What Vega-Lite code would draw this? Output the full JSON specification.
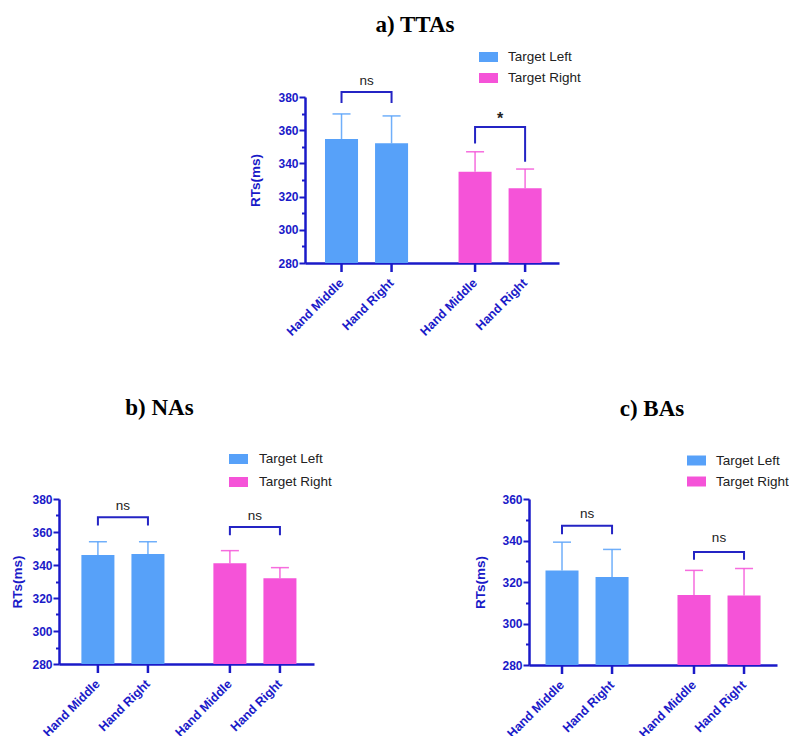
{
  "$schema": "https://vega.github.io/schema/vega-lite/v6.json",
  "background": "white",
  "padding": {"left": 10, "top": 14, "right": 0, "bottom": 0},
  "config": {
    "view": {"stroke": null},
    "axis": {"domainColor": "#1a1ac8", "tickColor": "#1a1ac8", "labelColor": "#1a1ac8", "titleColor": "#1a1ac8", "labelFont": "Liberation Sans", "titleFont": "Liberation Sans", "grid": false},
    "axisY": {"domainWidth": 2.5, "tickWidth": 2, "labelFontWeight": "bold", "labelFontSize": 12, "titleFontWeight": "bold", "titleFontSize": 13.5, "labelPadding": 1, "titlePadding": 8, "tickCount": 10},
    "legend": {"title": null, "orient": "none", "symbolType": "M-1,-0.526H1V0.526H-1Z", "symbolSize": 361, "symbolStrokeWidth": 0, "labelFont": "Liberation Sans", "labelFontSize": 13.5, "labelColor": "#222222", "labelOffset": 10, "rowPadding": 5, "padding": 0},
    "title": {"font": "Liberation Serif", "fontSize": 23, "fontWeight": "bold", "color": "#000000", "anchor": "middle", "frame": "group", "baseline": "alphabetic"}
  },
  "datasets": {
    "barsA": [
      {"target": "Target Left", "hand": "Hand Middle", "mean": 354.7, "hi": 369.8},
      {"target": "Target Left", "hand": "Hand Right", "mean": 352.1, "hi": 368.6},
      {"target": "Target Right", "hand": "Hand Middle", "mean": 335.0, "hi": 347.0},
      {"target": "Target Right", "hand": "Hand Right", "mean": 325.0, "hi": 336.6}
    ],
    "brA": [
      {"br": "L", "target": "Target Left", "hand": "Hand Middle", "v": 376.4, "seq": 1},
      {"br": "L", "target": "Target Left", "hand": "Hand Middle", "v": 383, "seq": 2},
      {"br": "L", "target": "Target Left", "hand": "Hand Right", "v": 383, "seq": 3},
      {"br": "L", "target": "Target Left", "hand": "Hand Right", "v": 376.4, "seq": 4},
      {"br": "R", "target": "Target Right", "hand": "Hand Middle", "v": 352, "seq": 1},
      {"br": "R", "target": "Target Right", "hand": "Hand Middle", "v": 362, "seq": 2},
      {"br": "R", "target": "Target Right", "hand": "Hand Right", "v": 362, "seq": 3},
      {"br": "R", "target": "Target Right", "hand": "Hand Right", "v": 341, "seq": 4}
    ],
    "sigA": [
      {"target": "Target Left", "lab": "ns", "v": 389.6},
      {"target": "Target Right", "lab": "*", "v": 366.5}
    ],
    "barsB": [
      {"target": "Target Left", "hand": "Hand Middle", "mean": 346.1, "hi": 354.1},
      {"target": "Target Left", "hand": "Hand Right", "mean": 346.7, "hi": 354.1},
      {"target": "Target Right", "hand": "Hand Middle", "mean": 341.0, "hi": 348.7},
      {"target": "Target Right", "hand": "Hand Right", "mean": 332.0, "hi": 338.4}
    ],
    "brB": [
      {"br": "L", "target": "Target Left", "hand": "Hand Middle", "v": 364, "seq": 1},
      {"br": "L", "target": "Target Left", "hand": "Hand Middle", "v": 369, "seq": 2},
      {"br": "L", "target": "Target Left", "hand": "Hand Right", "v": 369, "seq": 3},
      {"br": "L", "target": "Target Left", "hand": "Hand Right", "v": 364, "seq": 4},
      {"br": "R", "target": "Target Right", "hand": "Hand Middle", "v": 358, "seq": 1},
      {"br": "R", "target": "Target Right", "hand": "Hand Middle", "v": 363, "seq": 2},
      {"br": "R", "target": "Target Right", "hand": "Hand Right", "v": 363, "seq": 3},
      {"br": "R", "target": "Target Right", "hand": "Hand Right", "v": 358, "seq": 4}
    ],
    "sigB": [
      {"target": "Target Left", "lab": "ns", "v": 375.5},
      {"target": "Target Right", "lab": "ns", "v": 369.7}
    ],
    "barsC": [
      {"target": "Target Left", "hand": "Hand Middle", "mean": 325.6, "hi": 339.2},
      {"target": "Target Left", "hand": "Hand Right", "mean": 322.4, "hi": 335.7},
      {"target": "Target Right", "hand": "Hand Middle", "mean": 313.7, "hi": 325.6},
      {"target": "Target Right", "hand": "Hand Right", "mean": 313.5, "hi": 326.5}
    ],
    "brC": [
      {"br": "L", "target": "Target Left", "hand": "Hand Middle", "v": 343, "seq": 1},
      {"br": "L", "target": "Target Left", "hand": "Hand Middle", "v": 347.1, "seq": 2},
      {"br": "L", "target": "Target Left", "hand": "Hand Right", "v": 347.1, "seq": 3},
      {"br": "L", "target": "Target Left", "hand": "Hand Right", "v": 343, "seq": 4},
      {"br": "R", "target": "Target Right", "hand": "Hand Middle", "v": 330.7, "seq": 1},
      {"br": "R", "target": "Target Right", "hand": "Hand Middle", "v": 334.5, "seq": 2},
      {"br": "R", "target": "Target Right", "hand": "Hand Right", "v": 334.5, "seq": 3},
      {"br": "R", "target": "Target Right", "hand": "Hand Right", "v": 330.7, "seq": 4}
    ],
    "sigC": [
      {"target": "Target Left", "lab": "ns", "v": 353},
      {"target": "Target Right", "lab": "ns", "v": 341}
    ]
  },
  "bounds": "flush",
  "spacing": 402,
  "resolve": {"scale": {"color": "independent"}, "legend": {"color": "independent"}},
  "vconcat": [
    {
      "bounds": "flush",
      "spacing": 0,
      "resolve": {"scale": {"color": "independent"}, "legend": {"color": "independent"}},
      "hconcat": [
        {"data": {"values": [{}]}, "mark": {"type": "point", "opacity": 0}, "width": 246, "height": 10},
        {
          "width": 254, "height": 166,
          "title": {"text": "a) TTAs", "offset": 10.5, "dx": -17},
          "encoding": {"x": {"field": "target", "type": "nominal", "title": null, "scale": {"paddingInner": 0.378, "paddingOuter": 0.14, "align": 0.535}, "axis": {"labels": false, "ticks": false, "domainWidth": 2.5}}},
          "layer": [
            {"data": {"name": "barsA"}, "mark": {"type": "bar"},
             "encoding": {
               "xOffset": {"field": "hand", "type": "nominal", "scale": {"paddingInner": 0.34, "paddingOuter": 0}},
               "y": {"field": "mean", "type": "quantitative", "title": "RTs(ms)", "scale": {"domain": [280, 380], "nice": false, "zero": false},
                     "axis": {"titlePadding": 15, "labelExpr": "datum.value % 20 === 0 ? datum.label : ''", "tickSize": {"condition": {"test": "datum.value % 20 === 0", "value": 6}, "value": 3.5}}},
               "y2": {"datum": 280},
               "color": {"field": "target", "type": "nominal", "scale": {"domain": ["Target Left", "Target Right"], "range": ["#57a1f9", "#f553d8"]}, "legend": {"legendX": 174, "legendY": -49.5}}
             }},
            {"data": {"name": "barsA"}, "mark": {"type": "rule", "strokeWidth": 1.5, "opacity": 0.85},
             "encoding": {
               "xOffset": {"field": "hand", "type": "nominal"},
               "y": {"field": "mean", "type": "quantitative"},
               "y2": {"field": "hi"},
               "color": {"field": "target", "type": "nominal", "legend": null}
             }},
            {"data": {"name": "barsA"}, "mark": {"type": "tick", "thickness": 1.5, "size": 18, "opacity": 0.85},
             "encoding": {
               "xOffset": {"field": "hand", "type": "nominal"},
               "y": {"field": "hi", "type": "quantitative"},
               "color": {"field": "target", "type": "nominal", "legend": null}
             }},
            {"data": {"name": "barsA"}, "mark": {"type": "rule", "strokeWidth": 2.5, "color": "#1a1ac8", "y2Offset": 9},
             "encoding": {
               "xOffset": {"field": "hand", "type": "nominal"},
               "y": {"datum": 280, "type": "quantitative"},
               "y2": {"datum": 280}
             }},
            {"data": {"name": "barsA"}, "mark": {"type": "text", "angle": 315, "align": "right", "baseline": "middle", "yOffset": 18, "font": "Liberation Sans", "fontWeight": "bold", "fontSize": 12.5, "color": "#1a1ac8"},
             "encoding": {
               "xOffset": {"field": "hand", "type": "nominal"},
               "y": {"datum": 280, "type": "quantitative"},
               "text": {"field": "hand"}
             }},
            {"data": {"name": "brA"}, "mark": {"type": "line", "strokeWidth": 2, "color": "#2424c4"},
             "encoding": {
               "xOffset": {"field": "hand", "type": "nominal"},
               "y": {"field": "v", "type": "quantitative"},
               "detail": {"field": "br"},
               "order": {"field": "seq"}
             }},
            {"data": {"name": "sigA"}, "transform": [{"filter": "datum.lab === 'ns'"}], "mark": {"type": "text", "font": "Liberation Sans", "fontSize": 13.5, "color": "#222222", "baseline": "middle"},
             "encoding": {
               "y": {"field": "v", "type": "quantitative"},
               "text": {"field": "lab"}
             }},
            {"data": {"name": "sigA"}, "transform": [{"filter": "datum.lab === '*'"}], "mark": {"type": "text", "font": "Liberation Sans", "fontSize": 16, "fontWeight": "bold", "color": "#222222", "baseline": "middle"},
             "encoding": {
               "y": {"field": "v", "type": "quantitative"},
               "text": {"field": "lab"}
             }}
          ]
        }
      ]
    },
    {
      "bounds": "flush",
      "spacing": 215,
      "resolve": {"scale": {"color": "independent"}, "legend": {"color": "independent"}},
      "hconcat": [
        {
          "width": 255, "height": 165,
          "title": {"text": "b) NAs", "offset": 30, "dx": -27},
          "encoding": {"x": {"field": "target", "type": "nominal", "title": null, "scale": {"paddingInner": 0.371, "paddingOuter": 0.1515, "align": 0.56}, "axis": {"labels": false, "ticks": false, "domainWidth": 2.5}}},
          "layer": [
            {"data": {"name": "barsB"}, "mark": {"type": "bar"},
             "encoding": {
               "xOffset": {"field": "hand", "type": "nominal", "scale": {"paddingInner": 0.34, "paddingOuter": 0}},
               "y": {"field": "mean", "type": "quantitative", "title": "RTs(ms)", "scale": {"domain": [280, 380], "nice": false, "zero": false},
                     "axis": {"titlePadding": 7, "labelExpr": "datum.value % 20 === 0 ? datum.label : ''", "tickSize": {"condition": {"test": "datum.value % 20 === 0", "value": 6}, "value": 3.5}}},
               "y2": {"datum": 280},
               "color": {"field": "target", "type": "nominal", "scale": {"domain": ["Target Left", "Target Right"], "range": ["#57a1f9", "#f553d8"]}, "legend": {"legendX": 170, "legendY": -49.5, "labelOffset": 11, "rowPadding": 7}}
             }},
            {"data": {"name": "barsB"}, "mark": {"type": "rule", "strokeWidth": 1.5, "opacity": 0.85},
             "encoding": {
               "xOffset": {"field": "hand", "type": "nominal"},
               "y": {"field": "mean", "type": "quantitative"},
               "y2": {"field": "hi"},
               "color": {"field": "target", "type": "nominal", "legend": null}
             }},
            {"data": {"name": "barsB"}, "mark": {"type": "tick", "thickness": 1.5, "size": 18, "opacity": 0.85},
             "encoding": {
               "xOffset": {"field": "hand", "type": "nominal"},
               "y": {"field": "hi", "type": "quantitative"},
               "color": {"field": "target", "type": "nominal", "legend": null}
             }},
            {"data": {"name": "barsB"}, "mark": {"type": "rule", "strokeWidth": 2.5, "color": "#1a1ac8", "y2Offset": 9},
             "encoding": {
               "xOffset": {"field": "hand", "type": "nominal"},
               "y": {"datum": 280, "type": "quantitative"},
               "y2": {"datum": 280}
             }},
            {"data": {"name": "barsB"}, "mark": {"type": "text", "angle": 315, "align": "right", "baseline": "middle", "yOffset": 18, "font": "Liberation Sans", "fontWeight": "bold", "fontSize": 12.5, "color": "#1a1ac8"},
             "encoding": {
               "xOffset": {"field": "hand", "type": "nominal"},
               "y": {"datum": 280, "type": "quantitative"},
               "text": {"field": "hand"}
             }},
            {"data": {"name": "brB"}, "mark": {"type": "line", "strokeWidth": 2, "color": "#2424c4"},
             "encoding": {
               "xOffset": {"field": "hand", "type": "nominal"},
               "y": {"field": "v", "type": "quantitative"},
               "detail": {"field": "br"},
               "order": {"field": "seq"}
             }},
            {"data": {"name": "sigB"}, "mark": {"type": "text", "font": "Liberation Sans", "fontSize": 13.5, "color": "#222222", "baseline": "middle"},
             "encoding": {
               "y": {"field": "v", "type": "quantitative"},
               "text": {"field": "lab"}
             }}
          ]
        },
        {
          "width": 248, "height": 166,
          "title": {"text": "c) BAs", "offset": 30, "dx": -1},
          "encoding": {"x": {"field": "target", "type": "nominal", "title": null, "scale": {"paddingInner": 0.371, "paddingOuter": 0.125, "align": 0.5}, "axis": {"labels": false, "ticks": false, "domainWidth": 2.5}}},
          "layer": [
            {"data": {"name": "barsC"}, "mark": {"type": "bar"},
             "encoding": {
               "xOffset": {"field": "hand", "type": "nominal", "scale": {"paddingInner": 0.34, "paddingOuter": 0}},
               "y": {"field": "mean", "type": "quantitative", "title": "RTs(ms)", "scale": {"domain": [280, 360], "nice": false, "zero": false},
                     "axis": {"titlePadding": 14, "labelExpr": "datum.value % 20 === 0 ? datum.label : ''", "tickSize": {"condition": {"test": "datum.value % 20 === 0", "value": 6}, "value": 3.5}}},
               "y2": {"datum": 280},
               "color": {"field": "target", "type": "nominal", "scale": {"domain": ["Target Left", "Target Right"], "range": ["#57a1f9", "#f553d8"]}, "legend": {"legendX": 158, "legendY": -48}}
             }},
            {"data": {"name": "barsC"}, "mark": {"type": "rule", "strokeWidth": 1.5, "opacity": 0.85},
             "encoding": {
               "xOffset": {"field": "hand", "type": "nominal"},
               "y": {"field": "mean", "type": "quantitative"},
               "y2": {"field": "hi"},
               "color": {"field": "target", "type": "nominal", "legend": null}
             }},
            {"data": {"name": "barsC"}, "mark": {"type": "tick", "thickness": 1.5, "size": 18, "opacity": 0.85},
             "encoding": {
               "xOffset": {"field": "hand", "type": "nominal"},
               "y": {"field": "hi", "type": "quantitative"},
               "color": {"field": "target", "type": "nominal", "legend": null}
             }},
            {"data": {"name": "barsC"}, "mark": {"type": "rule", "strokeWidth": 2.5, "color": "#1a1ac8", "y2Offset": 9},
             "encoding": {
               "xOffset": {"field": "hand", "type": "nominal"},
               "y": {"datum": 280, "type": "quantitative"},
               "y2": {"datum": 280}
             }},
            {"data": {"name": "barsC"}, "mark": {"type": "text", "angle": 315, "align": "right", "baseline": "middle", "yOffset": 18, "font": "Liberation Sans", "fontWeight": "bold", "fontSize": 12.5, "color": "#1a1ac8"},
             "encoding": {
               "xOffset": {"field": "hand", "type": "nominal"},
               "y": {"datum": 280, "type": "quantitative"},
               "text": {"field": "hand"}
             }},
            {"data": {"name": "brC"}, "mark": {"type": "line", "strokeWidth": 2, "color": "#2424c4"},
             "encoding": {
               "xOffset": {"field": "hand", "type": "nominal"},
               "y": {"field": "v", "type": "quantitative"},
               "detail": {"field": "br"},
               "order": {"field": "seq"}
             }},
            {"data": {"name": "sigC"}, "mark": {"type": "text", "font": "Liberation Sans", "fontSize": 13.5, "color": "#222222", "baseline": "middle"},
             "encoding": {
               "y": {"field": "v", "type": "quantitative"},
               "text": {"field": "lab"}
             }}
          ]
        }
      ]
    }
  ]
}
